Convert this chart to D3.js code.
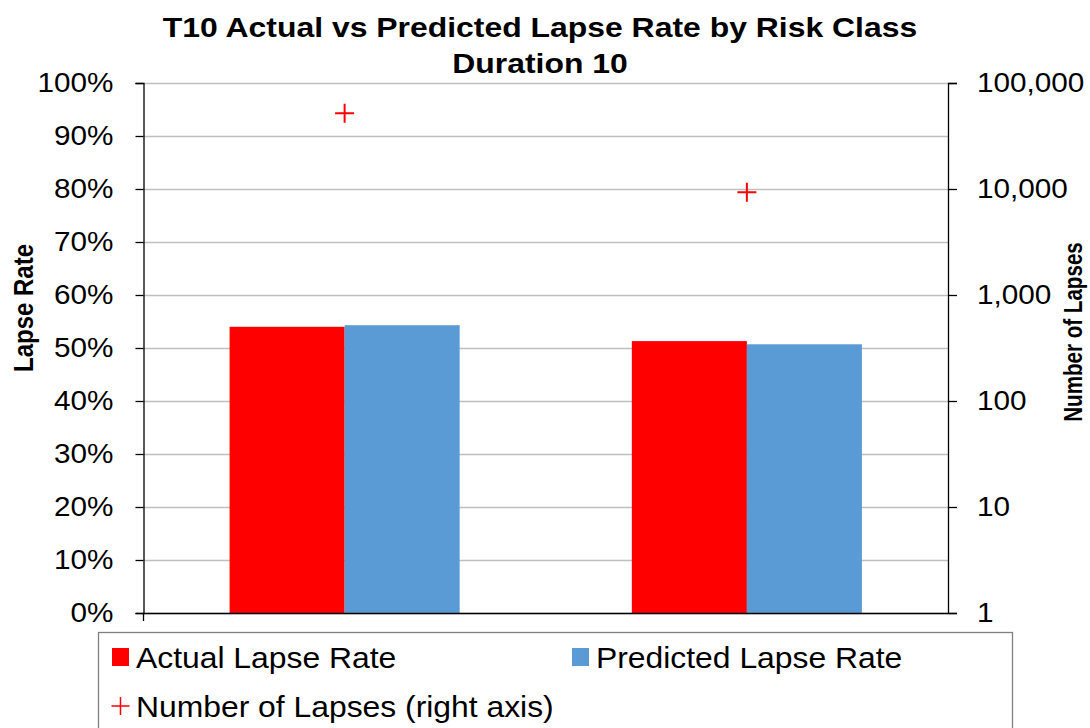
<!DOCTYPE html>
<html>
<head>
<meta charset="utf-8">
<script src="https://cdn.jsdelivr.net/npm/d3@7"></script>
<style>
  html, body { margin: 0; padding: 0; background: #fff; }
  svg { display: block; font-family: "Liberation Sans", Arial, sans-serif; }
</style>
</head>
<body>
<svg id="chart" width="1090" height="728"></svg>
<script>
// ---- data ----
const categories = ["Risk Class 1", "Risk Class 2"];
const seriesNames = ["Actual Lapse Rate", "Predicted Lapse Rate"];
const actualRate = [0.540, 0.513];
const predictedRate = [0.543, 0.507];
const numberOfLapses = [51800, 9300];
const leftTicks = [0, 0.1, 0.2, 0.3, 0.4, 0.5, 0.6, 0.7, 0.8, 0.9, 1.0];
const rightTicks = [1, 10, 100, 1000, 10000, 100000];
const titleLines = ["T10 Actual vs Predicted Lapse Rate by Risk Class", "Duration 10"];
const leftTitle = "Lapse Rate";
const rightTitle = "Number of Lapses";
const markerLegend = "Number of Lapses (right axis)";

// ---- layout ----
const svg = d3.select("#chart");
const plot = { left: 143.5, right: 948, top: 83, bottom: 613 };
const colors = { actual: "#FF0000", predicted: "#5B9BD5", marker: "#FF0000" };

const x = d3.scaleBand().domain(categories).range([plot.left, plot.right])
  .paddingInner(0.428).paddingOuter(0.214);
const xs = d3.scaleBand().domain(seriesNames).range([0, x.bandwidth()]);
const y = d3.scaleLinear().domain([0, 1]).range([plot.bottom, plot.top]);
const yr = d3.scaleLog().domain([1, 100000]).range([plot.bottom, plot.top]);

// helper: stretched text
function stext(parent, txt, px, py, opts) {
  const g = parent.append("g")
    .attr("transform", `translate(${px},${py}) scale(${opts.sx || 1},1)` + (opts.rot ? ` rotate(${opts.rot})` : ""));
  return g.append("text").text(txt)
    .attr("font-size", opts.fs)
    .attr("font-weight", opts.bold ? "bold" : "normal")
    .attr("text-anchor", opts.anchor || "start")
    .attr("fill", "#000");
}

// gridlines
svg.append("g").selectAll("line").data(leftTicks).join("line")
  .attr("x1", plot.left).attr("x2", plot.right)
  .attr("y1", d => Math.round(y(d)) + 0.5).attr("y2", d => Math.round(y(d)) + 0.5)
  .attr("stroke", "#BFBFBF").attr("stroke-width", 1.3);

// bars
const rows = categories.map((c, i) => ({ c, vals: [
  { s: seriesNames[0], v: actualRate[i], col: colors.actual },
  { s: seriesNames[1], v: predictedRate[i], col: colors.predicted } ] }));
svg.append("g").selectAll("g").data(rows).join("g")
  .attr("transform", d => `translate(${x(d.c)},0)`)
  .selectAll("rect").data(d => d.vals).join("rect")
  .attr("x", d => xs(d.s)).attr("width", xs.bandwidth())
  .attr("y", d => y(d.v)).attr("height", d => y(0) - y(d.v))
  .attr("fill", d => d.col);

// left axis
const axL = svg.append("g").attr("transform", `translate(${plot.left},0)`)
  .call(d3.axisLeft(y).tickValues(leftTicks).tickFormat(d3.format(".0%")).tickSize(8).tickPadding(22));
axL.select(".domain").attr("stroke", "#000").attr("stroke-width", 1.3);
axL.selectAll(".tick line").attr("stroke", "#000").attr("stroke-width", 1.3);
axL.selectAll(".tick text").each(function() {
  const t = d3.select(this); const xx = +t.attr("x");
  t.attr("x", 0).attr("transform", `translate(${xx},0) scale(1.08,1)`);
}).attr("font-size", 27.5).attr("font-family", "Liberation Sans, Arial, sans-serif").attr("fill", "#000");

// right axis
const axR = svg.append("g").attr("transform", `translate(${plot.right},0)`)
  .call(d3.axisRight(yr).tickValues(rightTicks).tickFormat(d3.format(",")).tickSize(9).tickPadding(20));
axR.select(".domain").attr("stroke", "#000").attr("stroke-width", 1.3);
axR.selectAll(".tick line").attr("stroke", "#000").attr("stroke-width", 1.3);
axR.selectAll(".tick text").each(function() {
  const t = d3.select(this); const xx = +t.attr("x");
  t.attr("x", 0).attr("transform", `translate(${xx},0) scale(1.08,1)`);
}).attr("font-size", 27.5).attr("font-family", "Liberation Sans, Arial, sans-serif").attr("fill", "#000");

// bottom axis (no labels)
const bottomG = svg.append("g");
bottomG.append("line").attr("x1", plot.left).attr("x2", plot.right)
  .attr("y1", plot.bottom + 0.5).attr("y2", plot.bottom + 0.5)
  .attr("stroke", "#000").attr("stroke-width", 1.3);
bottomG.append("line")
  .attr("x1", plot.left).attr("x2", plot.left)
  .attr("y1", plot.bottom).attr("y2", plot.bottom + 8)
  .attr("stroke", "#000").attr("stroke-width", 1.3);

// markers (right axis)
const plusPath = s => `M${-s},0H${s}M0,${-s}V${s}`;
svg.append("g").selectAll("path").data(categories.map((c, i) => ({ c, v: numberOfLapses[i] }))).join("path")
  .attr("transform", d => `translate(${x(d.c) + x.bandwidth() / 2},${yr(d.v)})`)
  .attr("d", plusPath(9.5)).attr("stroke", colors.marker).attr("stroke-width", 2).attr("fill", "none");

// titles
stext(svg, titleLines[0], 540, 37, { fs: 28.5, sx: 1.12, bold: true, anchor: "middle" });
stext(svg, titleLines[1], 540, 73, { fs: 28.5, sx: 1.12, bold: true, anchor: "middle" });
stext(svg, leftTitle, 33, 308, { fs: 24, sx: 1.17, bold: true, anchor: "middle", rot: -90 });
stext(svg, rightTitle, 1082, 332, { fs: 20.6, sx: 1.25, bold: true, anchor: "middle", rot: -90 });

// legend
const leg = svg.append("g");
leg.append("rect").attr("x", 98.5).attr("y", 632.5).attr("width", 914).attr("height", 110)
  .attr("fill", "#fff").attr("stroke", "#808080").attr("stroke-width", 1.3);
const legItems = [
  { name: seriesNames[0], col: colors.actual, kind: "rect", x: 112, y: 657 },
  { name: seriesNames[1], col: colors.predicted, kind: "rect", x: 572, y: 657 },
  { name: markerLegend, col: colors.marker, kind: "plus", x: 112, y: 706 }
];
legItems.forEach(it => {
  if (it.kind === "rect") {
    leg.append("rect").attr("x", it.x).attr("y", it.y - 9).attr("width", 17).attr("height", 18).attr("fill", it.col);
  } else {
    leg.append("path").attr("transform", `translate(${it.x + 8.5},${it.y})`)
      .attr("d", plusPath(9)).attr("stroke", it.col).attr("stroke-width", 1.5).attr("fill", "none");
  }
  stext(leg, it.name, it.x + 24, it.y + 10.5, { fs: 29.5, sx: 1.08 });
});
</script>
</body>
</html>
